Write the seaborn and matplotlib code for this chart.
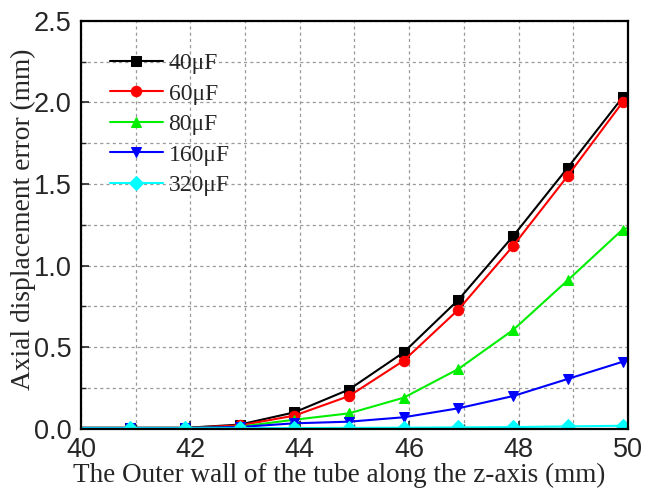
import numpy as np
import pandas as pd
import matplotlib
matplotlib.use("Agg")
import matplotlib.pyplot as plt
from matplotlib.ticker import MultipleLocator, FormatStrFormatter
import seaborn as sns

# Position along the outer wall of the tube (mm)
z_mm = [40.0, 40.9, 41.9, 42.9, 43.9, 44.9, 45.9, 46.9, 47.9, 48.9, 49.9, 50.0]

# Axial displacement error (mm) for each capacitance
err_40uF = [0.005, 0.005, 0.005, 0.025, 0.10, 0.24, 0.468, 0.79, 1.18, 1.60, 2.03, 2.05]
err_60uF = [0.005, 0.005, 0.005, 0.020, 0.08, 0.20, 0.417, 0.73, 1.12, 1.55, 2.00, 2.02]
err_80uF = [0.005, 0.005, 0.005, 0.012, 0.055, 0.094, 0.19, 0.366, 0.605, 0.91, 1.22, 1.23]
err_160uF = [0.005, 0.005, 0.005, 0.010, 0.033, 0.043, 0.07, 0.125, 0.20, 0.305, 0.41, 0.42]
err_320uF = [0.003, 0.003, 0.003, 0.003, 0.004, 0.005, 0.006, 0.008, 0.010, 0.014, 0.018, 0.019]

labels = ["40\u03bcF", "60\u03bcF", "80\u03bcF", "160\u03bcF", "320\u03bcF"]
series = [err_40uF, err_60uF, err_80uF, err_160uF, err_320uF]
colors = ["#000000", "#ff0000", "#00ee00", "#0000ff", "#00ffff"]
markers = ["s", "o", "^", "v", "D"]

frames = []
for lab, vals in zip(labels, series):
    frames.append(pd.DataFrame({"z": z_mm, "err": vals, "cap": lab}))
df = pd.concat(frames, ignore_index=True)

sns.set_style("white")
plt.rcParams["font.family"] = ["Liberation Sans", "DejaVu Sans"]

fig = plt.figure(figsize=(6.46, 4.94), dpi=100)
ax = fig.add_axes([0.1254, 0.1322, 0.8467, 0.8258])

for lab, col, mk in zip(labels, colors, markers):
    sub = df[df["cap"] == lab]
    sns.lineplot(data=sub, x="z", y="err", ax=ax, color=col, marker=mk,
                 markersize=7.5, markeredgecolor=col, linewidth=1.5,
                 markevery=slice(1, -1), label=lab, estimator=None,
                 sort=True)

ax.set_xlim(40, 50)
ax.set_ylim(0, 2.5)
ax.xaxis.set_major_locator(MultipleLocator(2))
ax.xaxis.set_minor_locator(MultipleLocator(1))
ax.yaxis.set_major_locator(MultipleLocator(0.5))
ax.yaxis.set_minor_locator(MultipleLocator(0.25))
ax.yaxis.set_major_formatter(FormatStrFormatter("%.1f"))

ax.grid(True, which="both", linestyle=(0, (2.5, 2.5)), color="#999999",
        linewidth=0.9)
ax.set_axisbelow(True)

ax.tick_params(axis="both", which="both", direction="in", labelsize=19.5,
               top=False, right=False, left=True, bottom=True)
ax.tick_params(axis="y", which="major", pad=7)
ax.tick_params(axis="x", which="major", pad=6)
ax.tick_params(which="major", length=6, width=1.2)
ax.tick_params(which="minor", length=3.5, width=1.0)
for sp in ax.spines.values():
    sp.set_color("black")
    sp.set_linewidth(1.6)

serif = ["Liberation Serif", "DejaVu Serif"]
ax.set_xlabel("The Outer wall of the tube along the z-axis (mm)",
              fontsize=19.5, family=serif)
ax.set_ylabel("Axial displacement error (mm)", fontsize=19.8, family=serif)
ax.xaxis.set_label_coords(0.472, -0.083)
ax.yaxis.set_label_coords(-0.082, 0.514)

leg = ax.legend(loc="upper left", bbox_to_anchor=(0.035, 0.945), frameon=False,
                handlelength=2.25, handletextpad=0.25, labelspacing=0.38,
                prop={"family": serif, "size": 17}, borderaxespad=0)

fig.savefig("out.png", dpi=100)
